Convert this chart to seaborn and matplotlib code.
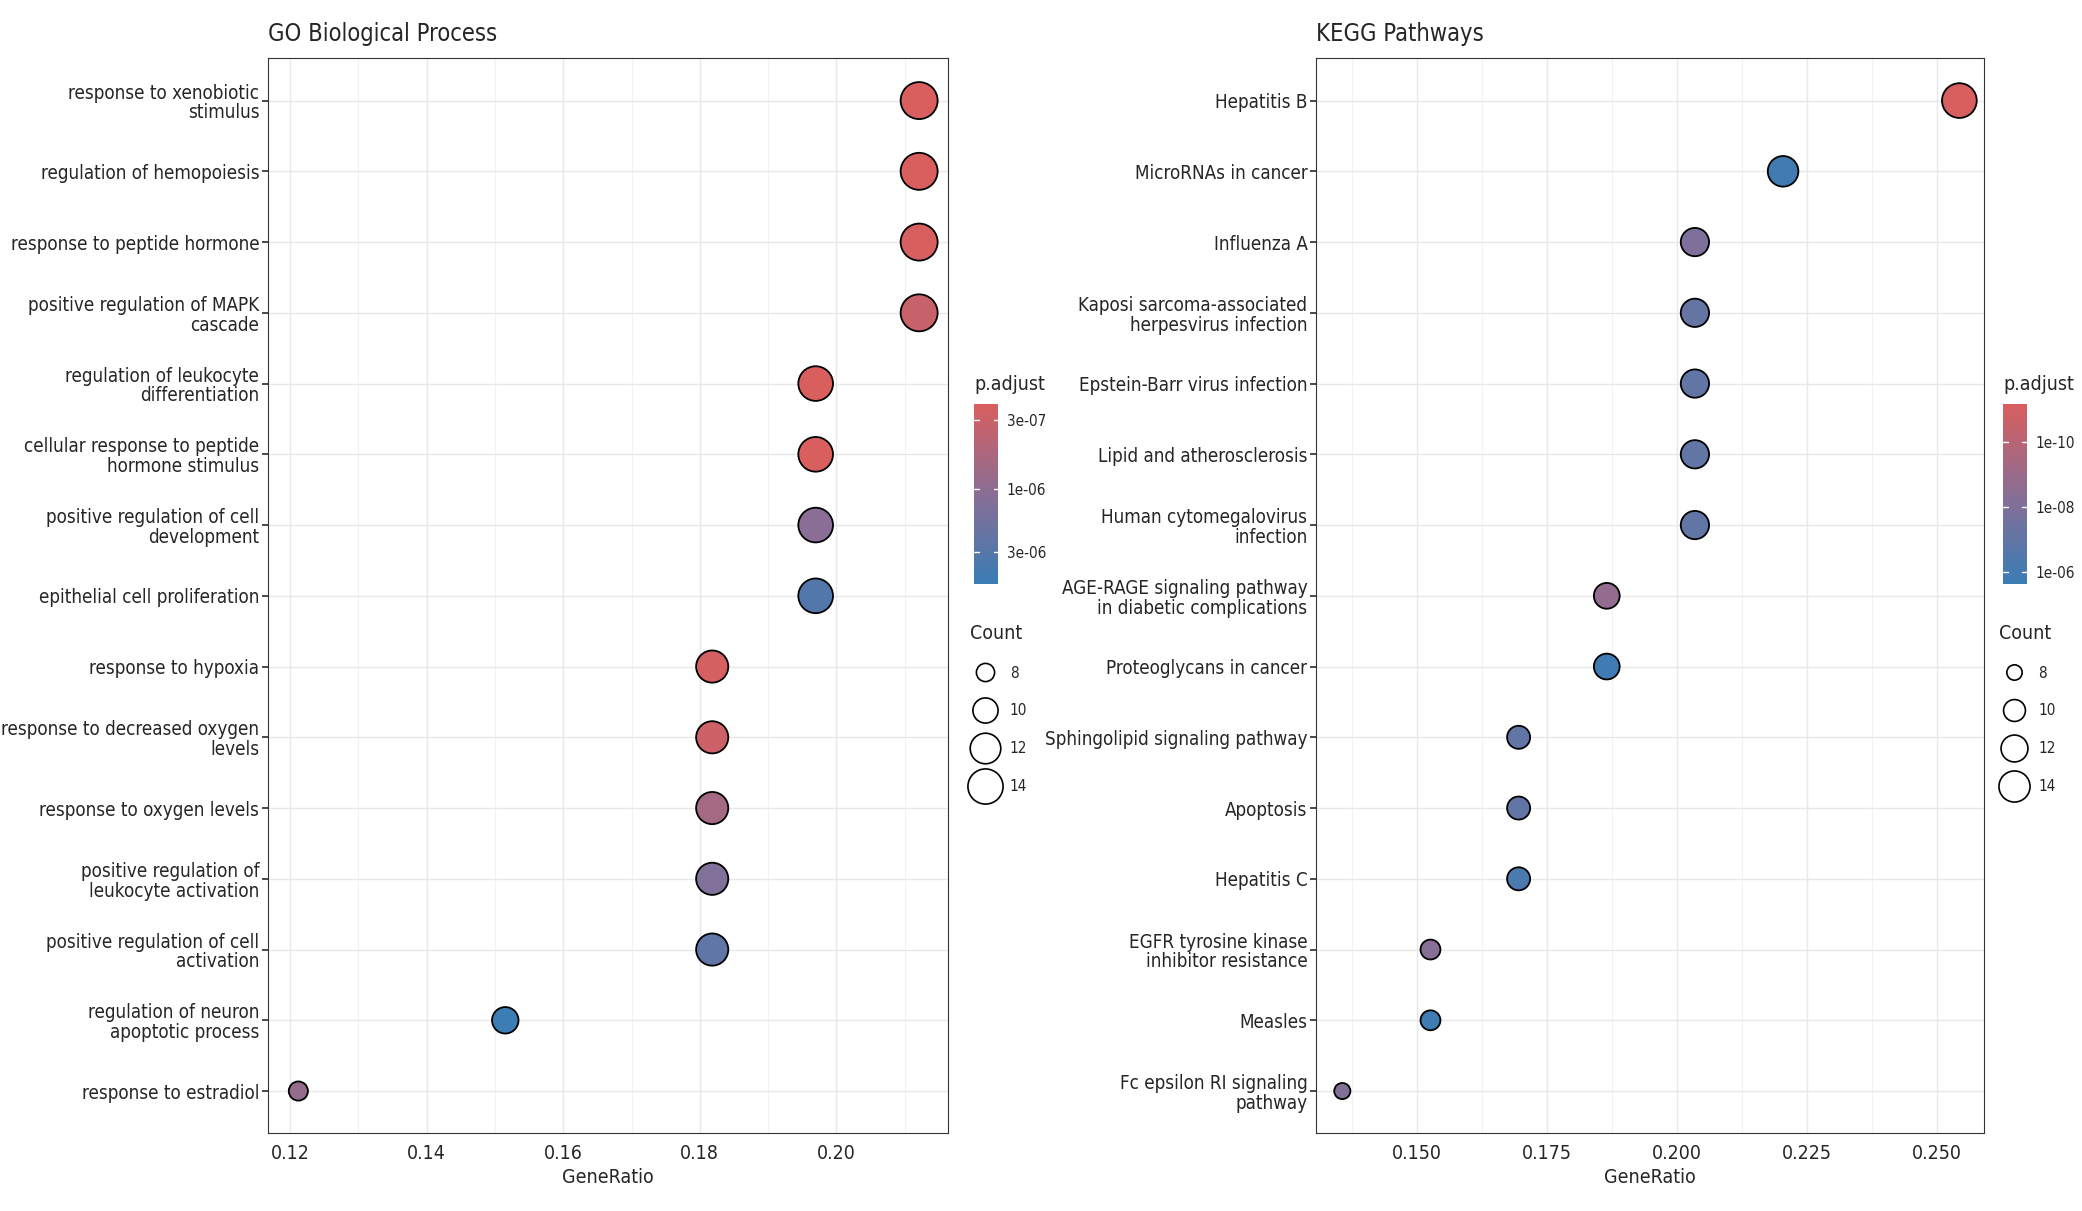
import numpy as np
import pandas as pd
import matplotlib
matplotlib.use("Agg")
import matplotlib.pyplot as plt
from matplotlib.colors import LinearSegmentedColormap, LogNorm
from matplotlib.lines import Line2D
import seaborn as sns

# ── Data ─────────────────────────────────────────────────────────────────────
go_terms = [
    "response to xenobiotic\nstimulus", "regulation of hemopoiesis",
    "response to peptide hormone", "positive regulation of MAPK\ncascade",
    "regulation of leukocyte\ndifferentiation", "cellular response to peptide\nhormone stimulus",
    "positive regulation of cell\ndevelopment", "epithelial cell proliferation",
    "response to hypoxia", "response to decreased oxygen\nlevels",
    "response to oxygen levels", "positive regulation of\nleukocyte activation",
    "positive regulation of cell\nactivation", "regulation of neuron\napoptotic process",
    "response to estradiol",
]
go_count = [14, 14, 14, 14, 13, 13, 13, 13, 12, 12, 12, 12, 12, 10, 8]
go_ratio = [c / 66 for c in go_count]
go_padj = [2.2e-7, 2.2e-7, 2.4e-7, 3.2e-7, 2.3e-7, 2.3e-7, 1.1e-6, 3.2e-6,
           2.5e-7, 3.0e-7, 6.5e-7, 1.3e-6, 2.5e-6, 5.0e-6, 9e-7]

kegg_terms = [
    "Hepatitis B", "MicroRNAs in cancer", "Influenza A",
    "Kaposi sarcoma-associated\nherpesvirus infection", "Epstein-Barr virus infection",
    "Lipid and atherosclerosis", "Human cytomegalovirus\ninfection",
    "AGE-RAGE signaling pathway\nin diabetic complications", "Proteoglycans in cancer",
    "Sphingolipid signaling pathway", "Apoptosis", "Hepatitis C",
    "EGFR tyrosine kinase\ninhibitor resistance", "Measles",
    "Fc epsilon RI signaling\npathway",
]
kegg_count = [15, 13, 12, 12, 12, 12, 12, 11, 11, 10, 10, 10, 9, 9, 8]
kegg_ratio = [c / 59 for c in kegg_count]
kegg_padj = [8e-12, 1.2e-6, 1e-8, 8e-8, 1e-7, 1e-7, 1e-7, 2e-9, 1.5e-6,
             1e-7, 1e-7, 6e-7, 5e-9, 1.5e-6, 8e-9]

legend_counts = [8, 10, 12, 14]

sns.set_theme(style="white")
plt.rcParams["font.family"] = ["DejaVu Sans", "Liberation Sans"]
plt.rcParams["font.stretch"] = "condensed"

CMAP = LinearSegmentedColormap.from_list("padj", ["#D95F5F", "#8A6E95", "#3A7DB5"])


def panel(fig, rect, cbrect, lgrect, terms, ratio, count, padj, title,
          xlim, xticks, xminor, sizes, size_norm, pnorm, cbticks, cblabels):
    ax = fig.add_axes(rect)
    df = pd.DataFrame({"term": terms, "GeneRatio": ratio, "Count": count,
                       "p": padj, "y": np.arange(len(terms))})
    norm = LogNorm(*pnorm)
    colors = [CMAP(norm(v)) for v in df["p"]]
    sns.scatterplot(data=df, x="GeneRatio", y="y", size="Count", sizes=sizes,
                    size_norm=size_norm, c=colors, edgecolor="black",
                    linewidth=1.3, ax=ax, legend=False, zorder=3)
    ax.set_xlim(*xlim)
    ax.set_ylim(len(terms) - 0.4, -0.6)
    ax.set_yticks(df["y"])
    ax.set_yticklabels(terms, fontsize=13.5, ha="right", linespacing=1.05)
    ax.set_xticks(xticks)
    ax.set_xticks(xminor, minor=True)
    ax.tick_params(axis="x", labelsize=14, length=4, color="#333333")
    ax.tick_params(axis="y", length=4, color="#333333", left=True, pad=2)
    ax.grid(True, which="major", color="#E8E8E8", lw=1.0)
    ax.grid(True, which="minor", axis="x", color="#F2F2F2", lw=0.8)
    ax.set_axisbelow(True)
    for s in ax.spines.values():
        s.set_color("#333333")
        s.set_linewidth(0.8)
    ax.set_xlabel("GeneRatio", fontsize=14)
    ax.set_ylabel("")
    ax.set_title(title, loc="left", fontsize=17, pad=12)

    # colorbar
    cax = fig.add_axes(cbrect)
    grad = np.logspace(np.log10(pnorm[0]), np.log10(pnorm[1]), 256)[:, None]
    cax.imshow(grad, aspect="auto", cmap=CMAP, norm=norm,
               extent=[0, 1, np.log10(pnorm[1]), np.log10(pnorm[0])])
    cax.set_ylim(np.log10(pnorm[1]), np.log10(pnorm[0]))
    cax.set_xticks([])
    cax.yaxis.tick_right()
    cax.set_yticks(np.log10(cbticks))
    cax.set_yticklabels(cblabels, fontsize=11)
    cax.tick_params(axis="y", length=0, pad=6)
    for t in np.log10(cbticks):
        cax.plot([0, 0.2], [t, t], color="white", lw=1)
        cax.plot([0.8, 1], [t, t], color="white", lw=1)
    for s in cax.spines.values():
        s.set_visible(False)
    fig.text(cbrect[0], cbrect[1] + cbrect[3] + 0.012, "p.adjust", fontsize=14)

    # size legend
    handles = []
    for c in legend_counts:
        s = sizes[0] + (sizes[1] - sizes[0]) * (c - size_norm[0]) / (size_norm[1] - size_norm[0])
        handles.append(Line2D([], [], ls="", marker="o", markersize=np.sqrt(s) * 0.95,
                              mfc="white", mec="black", mew=1.2, label=str(c)))
    fig.legend(handles=handles, loc="upper left", bbox_to_anchor=lgrect,
               frameon=False, title="Count", title_fontsize=14, fontsize=11,
               labelspacing=1.5, handletextpad=0.6, alignment="left",
               borderaxespad=0, borderpad=0)


fig = plt.figure(figsize=(20.82, 12.11), dpi=100)
panel(fig, [0.1285, 0.064, 0.327, 0.888], [0.468, 0.518, 0.0115, 0.148],
      (0.466, 0.485), go_terms, go_ratio, go_count, go_padj, "GO Biological Process",
      (0.1167, 0.2164), [0.12, 0.14, 0.16, 0.18, 0.20], [0.13, 0.15, 0.17, 0.19, 0.21],
      (190, 710), (8, 14), (2.3e-7, 5.2e-6), [3e-7, 1e-6, 3e-6],
      ["3e-07", "1e-06", "3e-06"])
panel(fig, [0.632, 0.064, 0.321, 0.888], [0.962, 0.518, 0.0115, 0.148],
      (0.96, 0.485), kegg_terms, kegg_ratio, kegg_count, kegg_padj, "KEGG Pathways",
      (0.1305, 0.259), [0.15, 0.175, 0.20, 0.225, 0.25],
      [0.1375, 0.1625, 0.1875, 0.2125, 0.2375],
      (135, 625), (8, 15), (7e-12, 2.3e-6), [1e-10, 1e-8, 1e-6],
      ["1e-10", "1e-08", "1e-06"])

fig.savefig("out.png", dpi=100, facecolor="white")
